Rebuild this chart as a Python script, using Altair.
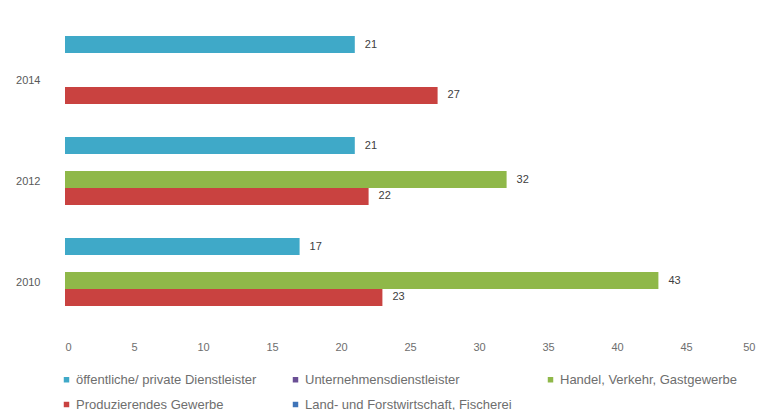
import altair as alt
import pandas as pd

years = ["2014", "2014", "2012", "2012", "2012", "2010", "2010", "2010"]
sectors = [
    "öffentliche/ private Dienstleister", "Produzierendes Gewerbe",
    "öffentliche/ private Dienstleister", "Handel, Verkehr, Gastgewerbe", "Produzierendes Gewerbe",
    "öffentliche/ private Dienstleister", "Handel, Verkehr, Gastgewerbe", "Produzierendes Gewerbe",
]
values = [21, 27, 21, 32, 22, 17, 43, 23]

year_order = ["2014", "2012", "2010"]
sector_order = [
    "öffentliche/ private Dienstleister",
    "Unternehmensdienstleister",
    "Handel, Verkehr, Gastgewerbe",
    "Produzierendes Gewerbe",
    "Land- und Forstwirtschaft, Fischerei",
]
sector_colors = ["#3fa9c8", "#6a4f95", "#8fb849", "#c94240", "#3f74b8"]

df = pd.DataFrame({"Jahr": years, "Sektor": sectors, "Wert": values})

FONT = "Liberation Sans"
GREY = "#595959"
LIGHT = "#6e6e6e"

base = alt.Chart(df).encode(
    y=alt.Y("Jahr:N", sort=year_order, title=None,
            scale=alt.Scale(paddingInner=0.16, paddingOuter=0.08),
            axis=alt.Axis(ticks=False, domain=False, labelPadding=25, labelOffset=2,
                          labelFont=FONT, labelFontSize=11, labelColor=GREY)),
    yOffset=alt.YOffset("Sektor:N", sort=sector_order,
                        scale=alt.Scale(domain=sector_order, paddingInner=0, paddingOuter=0)),
    x=alt.X("Wert:Q", title=None,
            scale=alt.Scale(domain=[0, 50], nice=False),
            axis=alt.Axis(values=list(range(0, 51, 5)), grid=False, ticks=False, domain=False,
                          labelPadding=10, labelFont=FONT, labelFontSize=11, labelColor=LIGHT)),
)

bars = base.mark_bar().encode(
    color=alt.Color("Sektor:N", sort=sector_order,
                    scale=alt.Scale(domain=sector_order, range=sector_colors),
                    legend=alt.Legend(title=None, orient="none", legendX=-5, legendY=345,
                                      direction="horizontal", columns=3,
                                      symbolType="square", symbolSize=30,
                                      labelFont=FONT, labelFontSize=13, labelColor=LIGHT,
                                      labelOffset=3, columnPadding=32, rowPadding=11,
                                      padding=0, labelLimit=400)),
)

labels = base.mark_text(align="left", dx=10, font=FONT, fontSize=11, color="#404040").encode(
    text=alt.Text("Wert:Q")
)

chart = (bars + labels).properties(
    width=690, height=303,
    autosize=alt.AutoSizeParams(type="none"),
    padding={"left": 57, "top": 20, "right": 8, "bottom": 79},
    background="white",
).configure_view(strokeWidth=0, stroke="transparent")

chart.save("out.html", embed_options={"renderer": "svg", "actions": False})
